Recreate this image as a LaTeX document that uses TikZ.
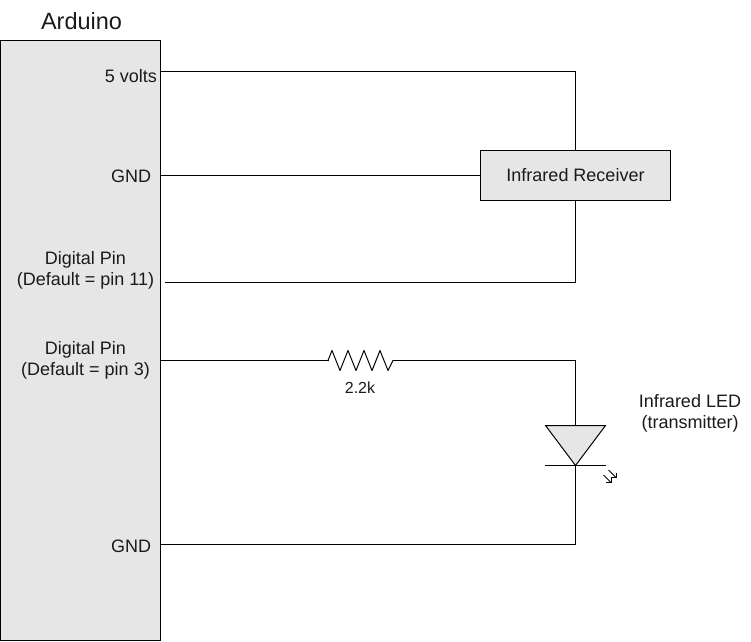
\documentclass[tikz,border=0pt]{standalone}
\usepackage{fontspec}
\setmainfont{Liberation Sans}
\definecolor{boxfill}{HTML}{E6E6E6}
\definecolor{ink}{HTML}{1A1A1A}
\tikzset{
  wire/.style={draw=black,line width=1pt,line cap=rect},
  block/.style={draw=black,fill=boxfill,line width=1pt,inner sep=0pt,outer sep=0pt,minimum width=#1},
  block/.default=0pt,
  label18/.style={text=ink,inner sep=0pt,align=center,font=\fontsize{18}{21}\selectfont},
  label16/.style={text=ink,inner sep=0pt,align=center,font=\fontsize{16}{19}\selectfont},
  label24/.style={text=ink,inner sep=0pt,align=center,font=\fontsize{23.5}{27}\selectfont},
  ledarrow/.style={draw=black,line width=0.9pt}
}
\begin{document}
\begin{tikzpicture}[x=1pt,y=-1pt]
\useasboundingbox (0,0) rectangle (751,641);
% Arduino body
\node[block,minimum width=160pt,minimum height=600pt] (arduino) at (80.5,340.5) {};
\node[label24] (title) at (81.5,21.5) {Arduino};
% pin labels
\node[label18] (p5v) at (131,76) {5 volts};
\node[label18] (pgnda) at (131,176) {GND};
\node[label18] (ppin11) at (85.5,270.5) {Digital Pin\\(Default = pin 11)};
\node[label18] (ppin3) at (85.5,360.5) {Digital Pin\\(Default = pin 3)};
\node[label18] (pgndb) at (131,546) {GND};
% receiver
\node[block,minimum width=190pt,minimum height=50pt,label18] (rx) at (575.5,175.5) {Infrared Receiver};
% wire ends
\coordinate (a5v) at (161,71.5);
\coordinate (agnd) at (161,175.5);
\coordinate (a11) at (165,282.5);
\coordinate (a3) at (161,360.5);
\coordinate (agndb) at (161,544.5);
\coordinate (rl) at (328,360.5);
\coordinate (rr) at (393,360.5);
% LED
\coordinate (ledtop) at (575.5,425.5);
\coordinate (ledbot) at (575.5,465.5);
\draw[wire,fill=boxfill,line join=miter] (545.5,425.5) -- (605.5,425.5) -- (ledbot) -- cycle;
\draw[wire] (545.5,465.5) -- (605.5,465.5);
% wires
\draw[wire] (a5v) -| (rx.north);
\draw[wire] (agnd) -- (rx.west);
\draw[wire] (a11) -| (rx.south);
\draw[wire] (a3) -- (rl);
\draw[wire,line join=round] (rl) -- (332,350.5) -- (340,370.5) -- (348,350.5) -- (356,370.5) -- (364,350.5) -- (372,370.5) -- (380,350.5) -- (388,370.5) -- (rr);
\draw[wire] (rr) -| (ledtop);
\draw[wire] (ledbot) |- (agndb);
% light arrows
\draw[ledarrow] (608.5,470) -- (616,477.5);
\draw[ledarrow] (616,472.5) -- (616,477.5) -- (611,477.5);
\draw[ledarrow] (603.5,475) -- (611,482.5);
\draw[ledarrow] (611,477.5) -- (611,482.5) -- (606,482.5);
% labels
\node[label16] (rval) at (360,387.5) {2.2k};
\node[label18] (ledname) at (690,413.5) {Infrared LED\\(transmitter)};
\end{tikzpicture}
\end{document}
